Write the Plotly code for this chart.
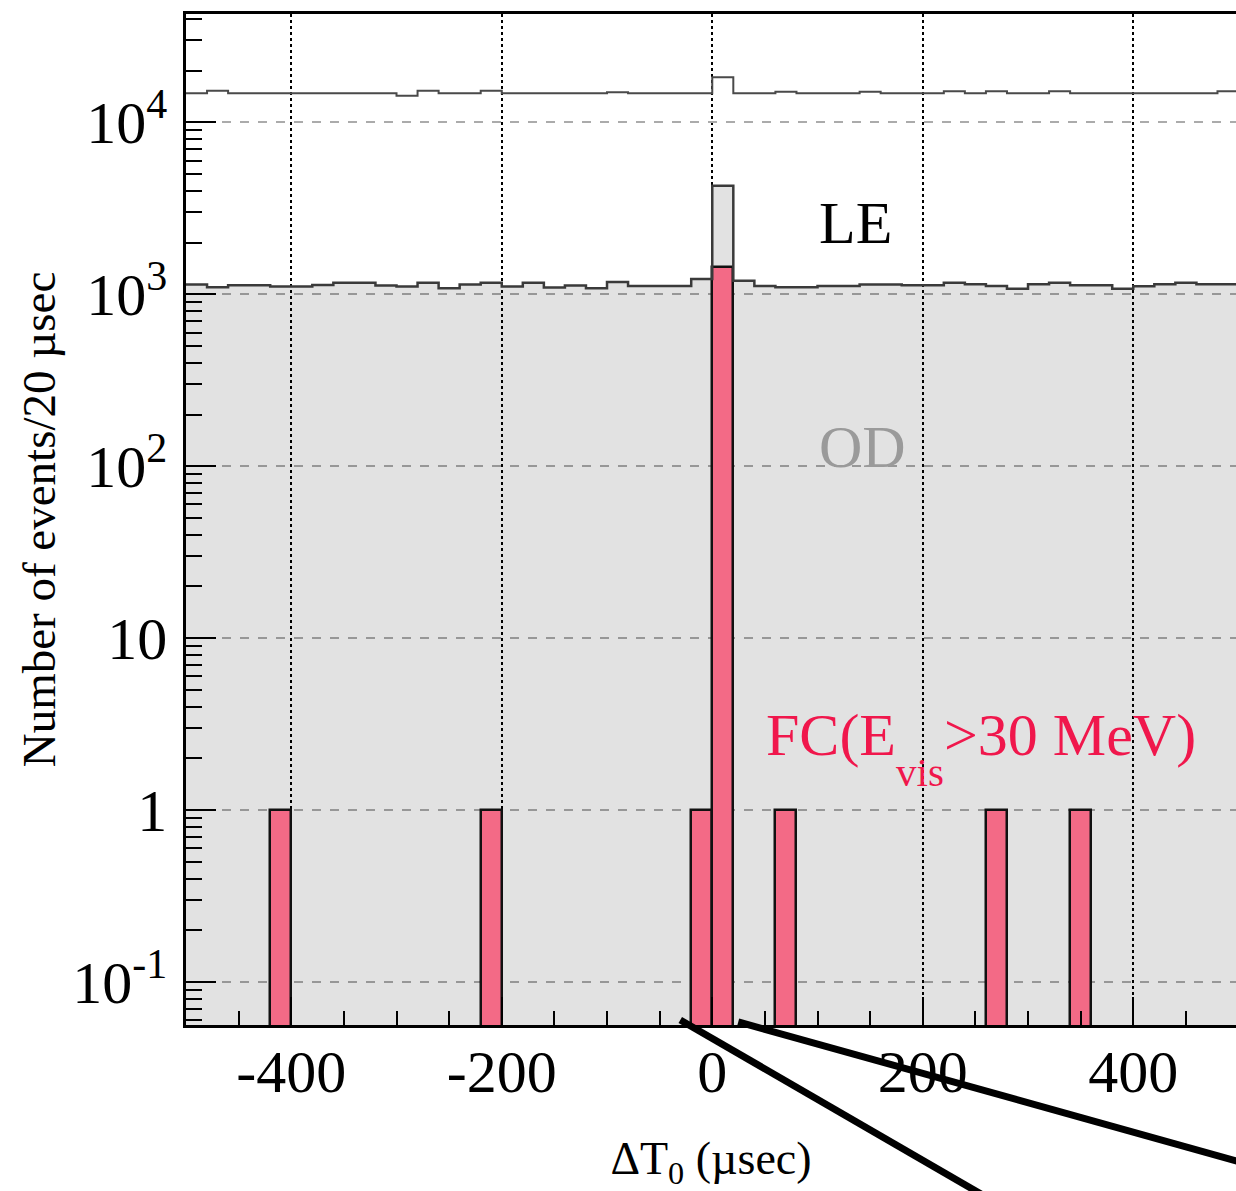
import plotly.graph_objects as go

# ---- data (20 usec bins from -500 to 500) ----
bin_width = 20
x_start = -500
le_counts = [14800, 15300, 14800, 14800, 14800, 14800, 14800, 14800, 14800, 14800,
             14300, 15300, 14800, 14800, 15300, 14800, 14800, 14800, 14800, 14800,
             15000, 14800, 14800, 14800, 14800, 18300, 14800, 14800, 15100, 14800,
             14800, 14800, 15100, 14800, 14800, 14800, 15200, 14800, 15200, 14800,
             14800, 15200, 14800, 14800, 14800, 14800, 14800, 14800, 14800, 15200]
od_counts = [1140, 1100, 1130, 1130, 1110, 1110, 1135, 1170, 1170, 1125,
             1110, 1170, 1085, 1140, 1170, 1110, 1170, 1095, 1125, 1085,
             1180, 1120, 1120, 1120, 1230, 4290, 1200, 1120, 1100, 1100,
             1120, 1120, 1140, 1140, 1130, 1130, 1170, 1145, 1120, 1080,
             1145, 1170, 1130, 1130, 1080, 1115, 1145, 1170, 1145, 1145]
fc_counts = [0, 0, 0, 0, 1, 0, 0, 0, 0, 0,
             0, 0, 0, 0, 1, 0, 0, 0, 0, 0,
             0, 0, 0, 0, 1, 1450, 0, 0, 1, 0,
             0, 0, 0, 0, 0, 0, 0, 0, 1, 0,
             0, 0, 1, 0, 0, 0, 0, 0, 0, 0]

x_tickvals = [-400, -200, 0, 200, 400]
x_ticktext = ["-400", "-200", "0", "200", "400"]
y_tickvals = [0.1, 1, 10, 100, 1000, 10000]
y_ticktext = ["10<sup>-1</sup>", "1", "10", "10<sup>2</sup>", "10<sup>3</sup>", "10<sup>4</sup>"]

# ---- derived ----
n = len(le_counts)
edges = [x_start + bin_width * i for i in range(n + 1)]
centers = [e + bin_width / 2 for e in edges[:-1]]
step_x = edges
le_step_y = le_counts + [le_counts[-1]]
od_step_y = od_counts + [od_counts[-1]]
fc_x = [c for c, v in zip(centers, fc_counts) if v > 0]
fc_y = [v for v in fc_counts if v > 0]

y_minor = []
for d in [0.01, 0.1, 1, 10, 100, 1000, 10000]:
    for k in range(2, 10):
        y_minor.append(d * k)

FONT = "Liberation Serif, Times New Roman, serif"
RED = "#f0174c"

fig = go.Figure()

# OD filled histogram (fill only)
fig.add_trace(go.Bar(x=centers, y=od_counts, width=bin_width,
                     marker=dict(color="rgba(0,0,0,0.115)", line=dict(width=0)),
                     hoverinfo="skip", showlegend=False))
# FC histogram
fig.add_trace(go.Bar(x=fc_x, y=fc_y, width=bin_width,
                     marker=dict(color="#f36a86", line=dict(color="#111111", width=2.5)),
                     showlegend=False))
# OD outline
fig.add_trace(go.Scatter(x=step_x, y=od_step_y, mode="lines",
                         line=dict(shape="hv", color="#3a3a3a", width=2.5),
                         showlegend=False))
# LE line
fig.add_trace(go.Scatter(x=step_x, y=le_step_y, mode="lines",
                         line=dict(shape="hv", color="#4a4a4a", width=2),
                         showlegend=False))

fig.update_layout(
    width=1236, height=1191,
    margin=dict(l=186, r=0, t=14, b=166),
    paper_bgcolor="white", plot_bgcolor="white",
    barmode="overlay", bargap=0,
    font=dict(family=FONT, color="black"),
    showlegend=False,
)

fig.update_xaxes(
    range=[-500, 497.6], automargin=False,
    showline=True, linecolor="black", linewidth=2.5, mirror=True,
    ticks="inside", ticklen=28, tickwidth=2, tickcolor="black",
    tickvals=x_tickvals, ticktext=x_ticktext, tickfont=dict(size=60, family=FONT),
    ticklabelstandoff=-8,
    minor=dict(ticks="inside", ticklen=14, tickwidth=2, tickcolor="black", dtick=50, tick0=0, showgrid=False),
    showgrid=True, gridcolor="black", griddash="dot", gridwidth=1.5,
    zeroline=False,
    title=dict(text="ΔT<sub>0</sub> (µsec)", font=dict(size=46, family=FONT), standoff=40),
)
fig.update_yaxes(
    type="log", range=[-1.25, 4.631], automargin=False,
    showline=True, linecolor="black", linewidth=2.5,
    ticks="inside", ticklen=30, tickwidth=2, tickcolor="black",
    tickvals=y_tickvals, ticktext=y_ticktext, tickfont=dict(size=60, family=FONT),
    ticklabelstandoff=4,
    minor=dict(ticks="inside", ticklen=16, tickwidth=2, tickcolor="black", tickvals=y_minor, showgrid=False),
    showgrid=True, gridcolor="#ababab", griddash="dash", gridwidth=1.5,
    zeroline=False,
    title=dict(text="Number of events/20 µsec", font=dict(size=47, family=FONT), standoff=2),
)

def px_x(p):
    return (p - 186) / 1050.0

def px_y(p):
    return (1025 - p) / 1011.0

fig.add_annotation(x=px_x(855), y=px_y(223), xref="paper", yref="paper", text="LE",
                   xanchor="center", yanchor="middle",
                   showarrow=False, font=dict(size=60, family=FONT, color="black"))
fig.add_annotation(x=px_x(862), y=px_y(447), xref="paper", yref="paper", text="OD",
                   xanchor="center", yanchor="middle",
                   showarrow=False, font=dict(size=60, family=FONT, color="#9a9a9a"))
fig.add_annotation(x=px_x(764), y=px_y(735), xref="paper", yref="paper", text="FC(E",
                   xanchor="left", yanchor="middle",
                   showarrow=False, font=dict(size=60, family=FONT, color=RED))
fig.add_annotation(x=px_x(894), y=px_y(772), xref="paper", yref="paper", text="vis",
                   xanchor="left", yanchor="middle",
                   showarrow=False, font=dict(size=41, family=FONT, color=RED))
fig.add_annotation(x=px_x(942), y=px_y(735), xref="paper", yref="paper", text="&gt;30 MeV)",
                   xanchor="left", yanchor="middle",
                   showarrow=False, font=dict(size=60, family=FONT, color=RED))

# zoom pointer lines below the axis
fig.add_shape(type="line", xref="x", yref="paper", x0=-30.4, y0=0.005, x1=260, y1=-0.17,
              line=dict(color="black", width=7), layer="above")
fig.add_shape(type="line", xref="x", yref="paper", x0=24.7, y0=0.003, x1=500, y1=-0.135,
              line=dict(color="black", width=7), layer="above")

fig.write_html("out.html", config={"displayModeBar": False},
               post_script="document.body.style.margin='0';document.body.style.overflow='hidden';")
